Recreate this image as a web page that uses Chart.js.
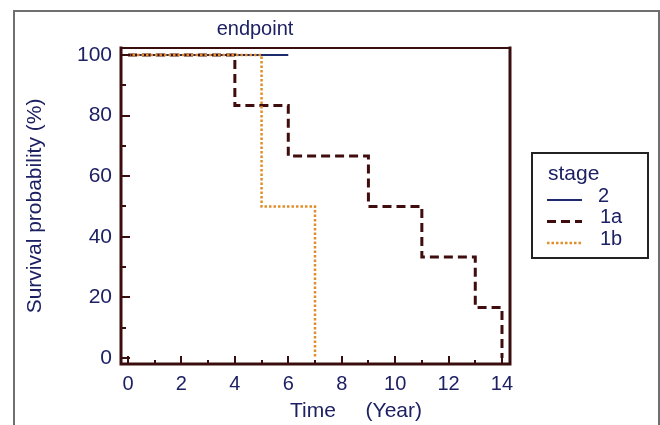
<!DOCTYPE html>
<html>
<head>
<meta charset="utf-8">
<script src="https://cdn.jsdelivr.net/npm/chart.js@4.4.1/dist/chart.umd.min.js"></script>
<style>
  html, body { margin: 0; padding: 0; background: #fff; }
  #km { display: block; }
</style>
</head>
<body>
<canvas id="km" width="660" height="425"></canvas>
<script>
// ---- Kaplan-Meier steps (time in years, survival in %) ----
var stage2Time = [0, 6];
var stage2Surv = [100, 100];
var stage1aTime = [0, 4, 6, 9, 11, 13, 14];
var stage1aSurv = [100, 83.3, 66.7, 50, 33.3, 16.7, 0];
var stage1bTime = [0, 5, 7];
var stage1bSurv = [100, 50, 0];

var stageLabels = ["2", "1a", "1b"];

// axis ticks (major get labels, minor are just inward marks)
var xMajor = [0, 2, 4, 6, 8, 10, 12, 14];
var xMinor = [1, 3, 5, 7, 9, 11, 13];
var yMajor = [0, 20, 40, 60, 80, 100];
var yMinor = [10, 30, 50, 70, 90];

(function () {
  "use strict";

  var NAVY = "#1d2163";
  var AXIS = "#3a0e0e";
  var FONT = "'Liberation Sans', Arial, sans-serif";

  function pts(t, s) {
    return t.map(function (x, i) { return { x: x, y: s[i] }; });
  }

  // grey outer frame, axis box with inward ticks, x title and boxed legend
  var kmDecor = {
    id: "kmDecor",
    beforeDraw: function (chart) {
      var ctx = chart.ctx;
      ctx.save();
      ctx.strokeStyle = "#6f6f6f";
      ctx.lineWidth = 2;
      ctx.beginPath();
      ctx.moveTo(14, 425);
      ctx.lineTo(14, 11);
      ctx.lineTo(659, 11);
      ctx.lineTo(659, 425);
      ctx.stroke();
      ctx.restore();
    },
    afterDraw: function (chart) {
      var ctx = chart.ctx;
      var a = chart.chartArea;
      var xs = chart.scales.x, ys = chart.scales.y;
      ctx.save();
      ctx.strokeStyle = AXIS;
      ctx.lineCap = "square";
      // box
      ctx.lineWidth = 2;
      ctx.beginPath();
      ctx.moveTo(a.left, a.top);
      ctx.lineTo(a.right, a.top);
      ctx.stroke();
      ctx.lineWidth = 3;
      ctx.beginPath();
      ctx.moveTo(a.left, a.top);
      ctx.lineTo(a.left, a.bottom);
      ctx.lineTo(a.right, a.bottom);
      ctx.lineTo(a.right, a.top);
      ctx.stroke();
      // inward ticks
      ctx.lineWidth = 2;
      ctx.lineCap = "butt";
      ctx.beginPath();
      xMajor.forEach(function (v) {
        var p = Math.round(xs.getPixelForValue(v));
        ctx.moveTo(p, a.bottom); ctx.lineTo(p, a.bottom - 8);
      });
      xMinor.forEach(function (v) {
        var p = Math.round(xs.getPixelForValue(v));
        ctx.moveTo(p, a.bottom); ctx.lineTo(p, a.bottom - 4);
      });
      yMajor.forEach(function (v) {
        var p = Math.round(ys.getPixelForValue(v));
        ctx.moveTo(a.left, p); ctx.lineTo(a.left + 9, p);
      });
      yMinor.forEach(function (v) {
        var p = Math.round(ys.getPixelForValue(v));
        ctx.moveTo(a.left, p); ctx.lineTo(a.left + 5, p);
      });
      ctx.stroke();

      // x axis title, set right of centre as in the original
      ctx.fillStyle = NAVY;
      ctx.font = "21px " + FONT;
      ctx.textBaseline = "alphabetic";
      ctx.textAlign = "left";
      ctx.fillText("Time", a.left + 169, 417);
      ctx.textAlign = "right";
      ctx.fillText("(Year)", a.left + 301, 417);

      // legend box
      var lx = a.right + 22, ly = 153, lw = 116, lh = 105;
      ctx.strokeStyle = "#222";
      ctx.lineWidth = 2;
      ctx.strokeRect(lx, ly, lw, lh);
      ctx.textAlign = "left";
      ctx.textBaseline = "middle";
      ctx.font = "21px " + FONT;
      ctx.fillText("stage", lx + 16, ly + 21);
      ctx.font = "20px " + FONT;
      chart.data.datasets.forEach(function (ds, i) {
        var ty = ly + 43 + i * 21.5;
        ctx.save();
        ctx.strokeStyle = ds.borderColor;
        ctx.lineWidth = ds.borderWidth;
        ctx.setLineDash(ds.borderDash || []);
        ctx.beginPath();
        ctx.moveTo(lx + 15, ty + 4);
        ctx.lineTo(lx + 50, ty + 4);
        ctx.stroke();
        ctx.restore();
        ctx.fillText(ds.label, lx + (i === 0 ? 66 : 68), ty);
      });
      ctx.restore();
    }
  };

  new Chart(document.getElementById("km"), {
    type: "line",
    data: {
      datasets: [
        { label: stageLabels[0], data: pts(stage2Time, stage2Surv), borderColor: "#1f2a6e",
          borderWidth: 2, stepped: "before", pointRadius: 0, fill: false, order: 3 },
        { label: stageLabels[1], data: pts(stage1aTime, stage1aSurv), borderColor: "#3f0d0d",
          borderWidth: 3, borderDash: [9, 5], stepped: "before", pointRadius: 0, fill: false, order: 2 },
        { label: stageLabels[2], data: pts(stage1bTime, stage1bSurv), borderColor: "#e08e2a",
          borderWidth: 2.5, borderDash: [2.5, 2], stepped: "before", pointRadius: 0, fill: false, order: 1 }
      ]
    },
    options: {
      responsive: false,
      animation: false,
      layout: { padding: { left: 0, right: 150, top: 0, bottom: 0 } },
      plugins: {
        legend: { display: false },
        tooltip: { enabled: false },
        title: {
          display: true,
          text: "endpoint",
          color: NAVY,
          font: { family: FONT, size: 20, weight: "normal", lineHeight: 1.2 },
          padding: { top: 17, bottom: 7 }
        }
      },
      scales: {
        x: {
          type: "linear",
          min: -0.262,
          max: 14.3,
          afterBuildTicks: function (s) { s.ticks = xMajor.map(function (v) { return { value: v }; }); },
          afterFit: function (s) { s.height = 61; },
          grid: { display: false, drawTicks: false },
          border: { display: false },
          ticks: { color: NAVY, padding: 8, maxRotation: 0, font: { family: FONT, size: 20 } }
        },
        y: {
          type: "linear",
          min: -1.98,
          max: 102.3,
          afterBuildTicks: function (s) { s.ticks = yMajor.map(function (v) { return { value: v }; }); },
          afterFit: function (s) { s.width = 121; },
          grid: { display: false, drawTicks: false },
          border: { display: false },
          ticks: { color: NAVY, padding: 9, font: { family: FONT, size: 21 } },
          title: {
            display: true,
            text: "Survival probability (%)",
            color: NAVY,
            font: { family: FONT, size: 21 },
            padding: { top: 23, bottom: 0 }
          }
        }
      }
    },
    plugins: [kmDecor]
  });
})();
</script>
</body>
</html>
